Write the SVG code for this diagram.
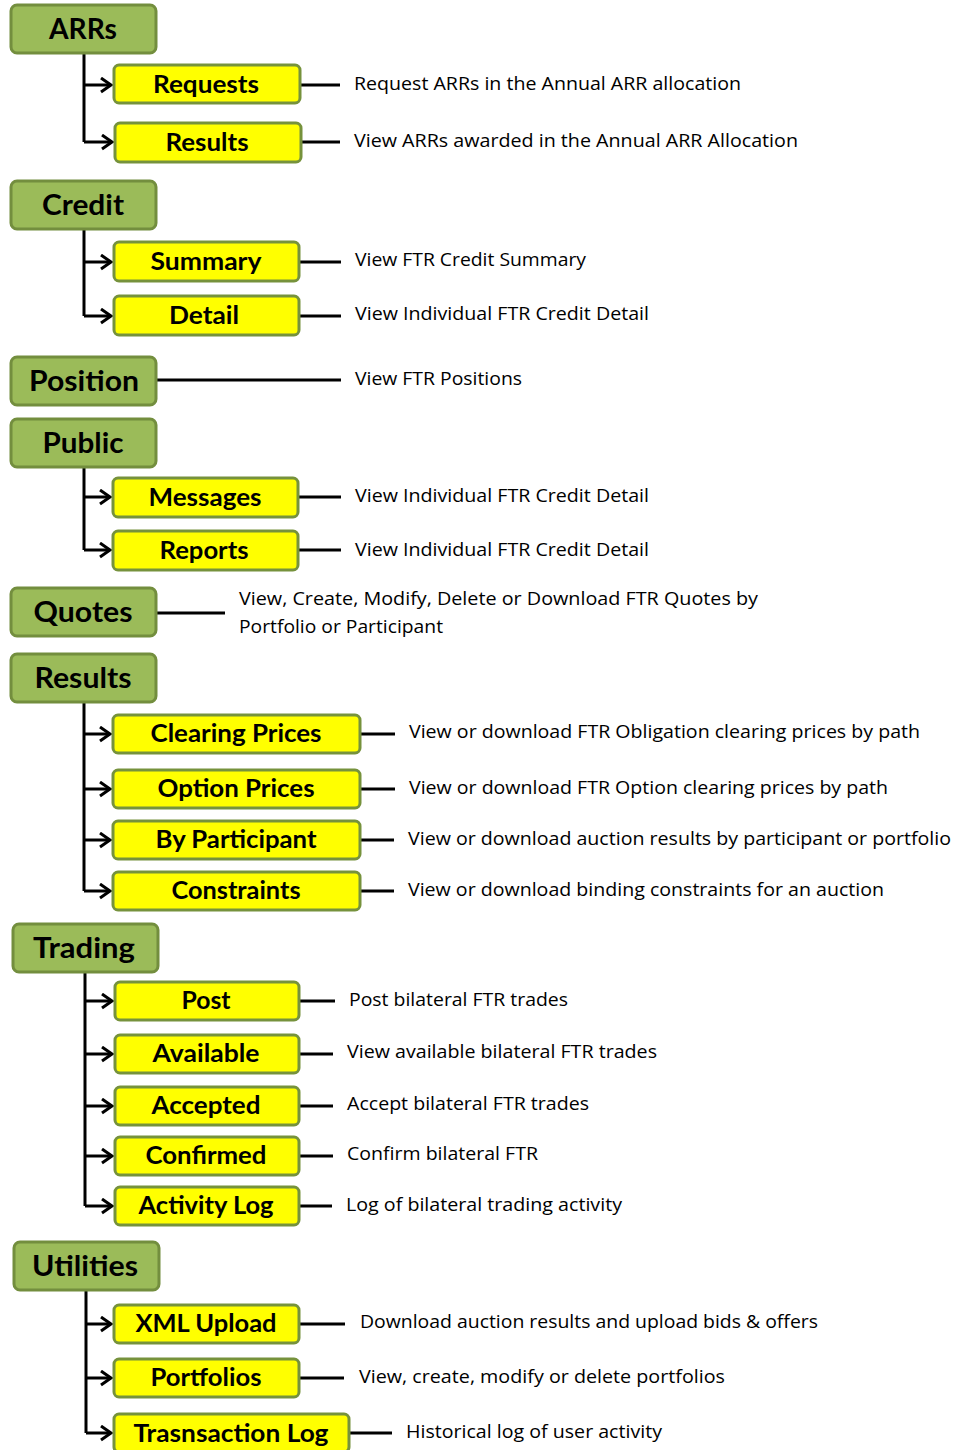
<svg xmlns="http://www.w3.org/2000/svg" width="956" height="1450" viewBox="0 0 956 1450">
<style>
.g{fill:#9BBB59;stroke:#738E3E;stroke-width:3}
.y{fill:#FFFF00;stroke:#76923C;stroke-width:3}
.gt{font-family:Lato,"Liberation Sans",sans-serif;font-weight:bold;font-size:28px;fill:#000;text-anchor:middle}
.yt{font-family:Lato,"Liberation Sans",sans-serif;font-weight:bold;font-size:24px;fill:#000;text-anchor:middle}
.d{font-family:"Open Sans","Liberation Sans",sans-serif;font-size:18px;fill:#000}
.c{stroke:#000;stroke-width:3;fill:none}
.a{stroke:#000;stroke-width:3;fill:none}
</style>
<defs>
<marker id="ah" markerUnits="userSpaceOnUse" markerWidth="16" markerHeight="18" refX="12" refY="8" orient="auto">
<path d="M2,1 L12,8 L2,15" stroke="#000" stroke-width="3" fill="none"/>
</marker>
</defs>
<g id="connectors">
<path class="c" d="M84,53 V142"/>
<path class="a" d="M84,85 H111" marker-end="url(#ah)"/>
<path class="a" d="M84,142 H112" marker-end="url(#ah)"/>
<path class="c" d="M300,85 H340 M301,142 H340"/>
<path class="c" d="M84,229 V316"/>
<path class="a" d="M84,262 H111" marker-end="url(#ah)"/>
<path class="a" d="M84,316 H111" marker-end="url(#ah)"/>
<path class="c" d="M299,262 H341 M299,316 H341"/>
<path class="c" d="M156,380 H341"/>
<path class="c" d="M84,467 V550"/>
<path class="a" d="M84,497 H110" marker-end="url(#ah)"/>
<path class="a" d="M84,550 H110" marker-end="url(#ah)"/>
<path class="c" d="M298,497 H341 M298,550 H341"/>
<path class="c" d="M156,613 H225"/>
<path class="c" d="M84,702 V891"/>
<path class="a" d="M84,734 H110" marker-end="url(#ah)"/>
<path class="a" d="M84,789 H110" marker-end="url(#ah)"/>
<path class="a" d="M84,840 H110" marker-end="url(#ah)"/>
<path class="a" d="M84,891 H110" marker-end="url(#ah)"/>
<path class="c" d="M360,734 H395 M360,789 H395 M360,840 H394 M360,891 H394"/>
<path class="c" d="M85,972 V1206"/>
<path class="a" d="M85,1001 H112" marker-end="url(#ah)"/>
<path class="a" d="M85,1054 H112" marker-end="url(#ah)"/>
<path class="a" d="M85,1106 H112" marker-end="url(#ah)"/>
<path class="a" d="M85,1156 H112" marker-end="url(#ah)"/>
<path class="a" d="M85,1206 H112" marker-end="url(#ah)"/>
<path class="c" d="M299,1001 H335 M299,1054 H333 M299,1106 H333 M299,1156 H333 M299,1206 H332"/>
<path class="c" d="M86,1290 V1433"/>
<path class="a" d="M86,1324 H111" marker-end="url(#ah)"/>
<path class="a" d="M86,1378 H111" marker-end="url(#ah)"/>
<path class="a" d="M86,1433 H111" marker-end="url(#ah)"/>
<path class="c" d="M299,1324 H345 M299,1378 H344 M349,1433 H392"/>
</g>
<g id="arrs"><rect class="g" x="11" y="5" width="145" height="48" rx="6"/><text class="gt" x="83" y="39" textLength="68" lengthAdjust="spacingAndGlyphs">ARRs</text></g>
<g id="arrs-requests"><rect class="y" x="114" y="65" width="186" height="38" rx="5"/><text class="yt" x="206" y="93" textLength="106" lengthAdjust="spacingAndGlyphs">Requests</text><text class="d" x="354" y="90" textLength="387" lengthAdjust="spacingAndGlyphs">Request ARRs in the Annual ARR allocation</text></g>
<g id="arrs-results"><rect class="y" x="115" y="123" width="186" height="39" rx="5"/><text class="yt" x="207" y="151" textLength="83" lengthAdjust="spacingAndGlyphs">Results</text><text class="d" x="354" y="147" textLength="444" lengthAdjust="spacingAndGlyphs">View ARRs awarded in the Annual ARR Allocation</text></g>
<g id="credit"><rect class="g" x="11" y="181" width="145" height="48" rx="6"/><text class="gt" x="83" y="215" textLength="82" lengthAdjust="spacingAndGlyphs">Credit</text></g>
<g id="credit-summary"><rect class="y" x="114" y="242" width="185" height="39" rx="5"/><text class="yt" x="206" y="270" textLength="111" lengthAdjust="spacingAndGlyphs">Summary</text><text class="d" x="355" y="266" textLength="231" lengthAdjust="spacingAndGlyphs">View FTR Credit Summary</text></g>
<g id="credit-detail"><rect class="y" x="114" y="296" width="185" height="39" rx="5"/><text class="yt" x="204" y="324" textLength="70" lengthAdjust="spacingAndGlyphs">Detail</text><text class="d" x="355" y="320" textLength="294" lengthAdjust="spacingAndGlyphs">View Individual FTR Credit Detail</text></g>
<g id="position"><rect class="g" x="11" y="357" width="145" height="48" rx="6"/><text class="gt" x="84" y="391" textLength="110" lengthAdjust="spacingAndGlyphs">Position</text><text class="d" x="355" y="385" textLength="167" lengthAdjust="spacingAndGlyphs">View FTR Positions</text></g>
<g id="public"><rect class="g" x="11" y="419" width="145" height="48" rx="6"/><text class="gt" x="83" y="453" textLength="81" lengthAdjust="spacingAndGlyphs">Public</text></g>
<g id="public-messages"><rect class="y" x="113" y="478" width="185" height="39" rx="5"/><text class="yt" x="205" y="506" textLength="113" lengthAdjust="spacingAndGlyphs">Messages</text><text class="d" x="355" y="502" textLength="294" lengthAdjust="spacingAndGlyphs">View Individual FTR Credit Detail</text></g>
<g id="public-reports"><rect class="y" x="113" y="531" width="185" height="39" rx="5"/><text class="yt" x="204" y="559" textLength="89" lengthAdjust="spacingAndGlyphs">Reports</text><text class="d" x="355" y="556" textLength="294" lengthAdjust="spacingAndGlyphs">View Individual FTR Credit Detail</text></g>
<g id="quotes"><rect class="g" x="11" y="588" width="145" height="48" rx="6"/><text class="gt" x="83" y="622" textLength="99" lengthAdjust="spacingAndGlyphs">Quotes</text><text class="d" x="239" y="605" textLength="519" lengthAdjust="spacingAndGlyphs">View, Create, Modify, Delete or Download FTR Quotes by</text><text class="d" x="239" y="633" textLength="204" lengthAdjust="spacingAndGlyphs">Portfolio or Participant</text></g>
<g id="results"><rect class="g" x="11" y="654" width="145" height="48" rx="6"/><text class="gt" x="83" y="688" textLength="97" lengthAdjust="spacingAndGlyphs">Results</text></g>
<g id="results-clearing"><rect class="y" x="113" y="715" width="247" height="38" rx="5"/><text class="yt" x="236" y="742" textLength="171" lengthAdjust="spacingAndGlyphs">Clearing Prices</text><text class="d" x="409" y="738" textLength="511" lengthAdjust="spacingAndGlyphs">View or download FTR Obligation clearing prices by path</text></g>
<g id="results-option"><rect class="y" x="113" y="770" width="247" height="38" rx="5"/><text class="yt" x="236" y="797" textLength="157" lengthAdjust="spacingAndGlyphs">Option Prices</text><text class="d" x="409" y="794" textLength="479" lengthAdjust="spacingAndGlyphs">View or download FTR Option clearing prices by path</text></g>
<g id="results-participant"><rect class="y" x="113" y="821" width="247" height="38" rx="5"/><text class="yt" x="236" y="848" textLength="161" lengthAdjust="spacingAndGlyphs">By Participant</text><text class="d" x="408" y="845" textLength="543" lengthAdjust="spacingAndGlyphs">View or download auction results by participant or portfolio</text></g>
<g id="results-constraints"><rect class="y" x="113" y="872" width="247" height="38" rx="5"/><text class="yt" x="236" y="899" textLength="129" lengthAdjust="spacingAndGlyphs">Constraints</text><text class="d" x="408" y="896" textLength="476" lengthAdjust="spacingAndGlyphs">View or download binding constraints for an auction</text></g>
<g id="trading"><rect class="g" x="13" y="924" width="145" height="48" rx="6"/><text class="gt" x="84" y="958" textLength="102" lengthAdjust="spacingAndGlyphs">Trading</text></g>
<g id="trading-post"><rect class="y" x="115" y="982" width="184" height="38" rx="5"/><text class="yt" x="206" y="1009" textLength="49" lengthAdjust="spacingAndGlyphs">Post</text><text class="d" x="349" y="1006" textLength="219" lengthAdjust="spacingAndGlyphs">Post bilateral FTR trades</text></g>
<g id="trading-available"><rect class="y" x="115" y="1035" width="184" height="38" rx="5"/><text class="yt" x="206" y="1062" textLength="107" lengthAdjust="spacingAndGlyphs">Available</text><text class="d" x="347" y="1058" textLength="310" lengthAdjust="spacingAndGlyphs">View available bilateral FTR trades</text></g>
<g id="trading-accepted"><rect class="y" x="115" y="1087" width="184" height="38" rx="5"/><text class="yt" x="206" y="1114" textLength="109" lengthAdjust="spacingAndGlyphs">Accepted</text><text class="d" x="347" y="1110" textLength="242" lengthAdjust="spacingAndGlyphs">Accept bilateral FTR trades</text></g>
<g id="trading-confirmed"><rect class="y" x="115" y="1137" width="184" height="38" rx="5"/><text class="yt" x="206" y="1164" textLength="121" lengthAdjust="spacingAndGlyphs">Confirmed</text><text class="d" x="347" y="1160" textLength="191" lengthAdjust="spacingAndGlyphs">Confirm bilateral FTR</text></g>
<g id="trading-activity"><rect class="y" x="115" y="1187" width="184" height="38" rx="5"/><text class="yt" x="206" y="1214" textLength="135" lengthAdjust="spacingAndGlyphs">Activity Log</text><text class="d" x="346" y="1211" textLength="276" lengthAdjust="spacingAndGlyphs">Log of bilateral trading activity</text></g>
<g id="utilities"><rect class="g" x="14" y="1242" width="145" height="48" rx="6"/><text class="gt" x="85" y="1276" textLength="106" lengthAdjust="spacingAndGlyphs">Utilities</text></g>
<g id="utilities-xml"><rect class="y" x="114" y="1305" width="185" height="38" rx="5"/><text class="yt" x="206" y="1332" textLength="141" lengthAdjust="spacingAndGlyphs">XML Upload</text><text class="d" x="360" y="1328" textLength="458" lengthAdjust="spacingAndGlyphs">Download auction results and upload bids &amp; offers</text></g>
<g id="utilities-portfolios"><rect class="y" x="114" y="1359" width="185" height="38" rx="5"/><text class="yt" x="206" y="1386" textLength="111" lengthAdjust="spacingAndGlyphs">Portfolios</text><text class="d" x="359" y="1383" textLength="366" lengthAdjust="spacingAndGlyphs">View, create, modify or delete portfolios</text></g>
<g id="utilities-transaction"><rect class="y" x="114" y="1414" width="235" height="38" rx="5"/><text class="yt" x="231" y="1442" textLength="195" lengthAdjust="spacingAndGlyphs">Trasnsaction  Log</text><text class="d" x="406" y="1438" textLength="256" lengthAdjust="spacingAndGlyphs">Historical log of user activity</text></g>
</svg>
